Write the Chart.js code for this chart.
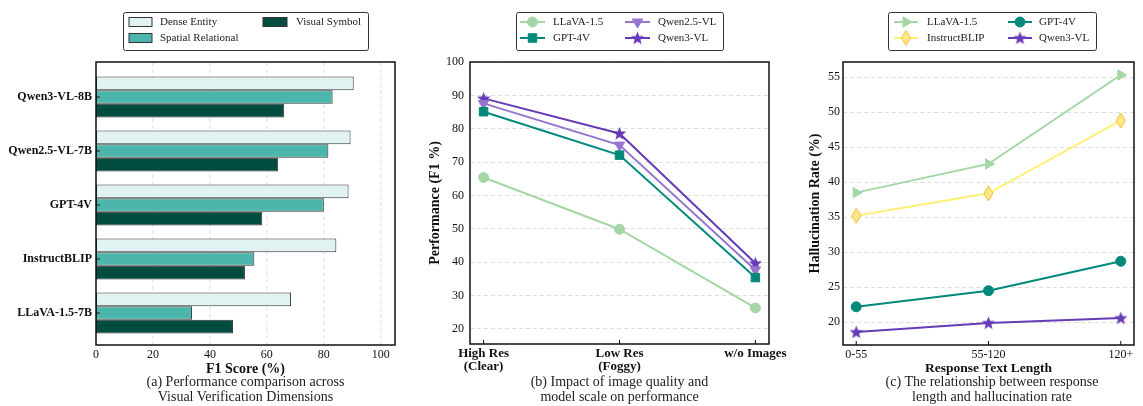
<!DOCTYPE html>
<html>
<head>
<meta charset="utf-8">
<script src="https://cdn.jsdelivr.net/npm/chart.js@4.4.1/dist/chart.umd.min.js"></script>
<style>
  body { margin: 0; background: #fff; width: 1143px; height: 406px; position: relative; overflow: hidden; font-family: "Liberation Serif", serif; }
  canvas { position: absolute; top: 0; }
  .cap { position: absolute; text-align: center; font-size: 14px; line-height: 15px; color: #222; }
</style>
</head>
<body>
<canvas id="c1" width="400" height="406" style="left:0"></canvas>
<canvas id="c2" width="400" height="406" style="left:400px"></canvas>
<canvas id="c3" width="363" height="406" style="left:780px"></canvas>
<div class="cap" style="left:66px;width:359px;top:374px">(a) Performance comparison across<br>Visual Verification Dimensions</div>
<div class="cap" style="left:440px;width:359px;top:374px">(b) Impact of image quality and<br>model scale on performance</div>
<div class="cap" style="left:812px;width:360px;top:374px">(c) The relationship between response<br>length and hallucination rate</div>
<script>
// (a) F1 by verification dimension
const modelsA = ["Qwen3-VL-8B", "Qwen2.5-VL-7B", "GPT-4V", "InstructBLIP", "LLaVA-1.5-7B"];
const denseEntity = [90.5, 89.4, 88.7, 84.4, 68.5];
const spatialRelational = [83.1, 81.6, 80.0, 55.6, 33.7];
const visualSymbol = [66.1, 64.0, 58.4, 52.3, 48.1];
const f1Ticks = [0, 20, 40, 60, 80, 100];

// (b) image quality
const qualityLabels = [["High Res", "(Clear)"], ["Low Res", "(Foggy)"], ["w/o Images"]];
const llavaQuality = [65.4, 49.9, 26.3];
const gpt4vQuality = [85.1, 72.1, 35.4];
const qwen25Quality = [87.6, 75.1, 37.7];
const qwen3Quality = [89.1, 78.6, 39.7];
const perfTicks = [20, 30, 40, 50, 60, 70, 80, 90, 100];

// (c) response length
const lengthLabels = ["0-55", "55-120", "120+"];
const llavaHalluc = [38.5, 42.6, 55.3];
const instructHalluc = [35.2, 38.4, 48.8];
const gpt4vHalluc = [22.2, 24.5, 28.7];
const qwen3Halluc = [18.6, 19.9, 20.6];
const hallucTicks = [20, 25, 30, 35, 40, 45, 50, 55];

Chart.defaults.font.family = "'Liberation Serif', serif";
Chart.defaults.color = "#111";
Chart.defaults.animation = false;
Chart.defaults.events = [];
Chart.defaults.plugins.legend.display = false;
Chart.defaults.plugins.tooltip.enabled = false;

const SERIF = "'Liberation Serif', serif";

// filled star / thin diamond markers
function makeStar(color, size) {
  const c = document.createElement("canvas");
  c.width = size; c.height = size;
  const g = c.getContext("2d");
  const R = size / 2 - 0.5, r = R * 0.42, cx = size / 2, cy = size / 2 + 0.5;
  g.beginPath();
  for (let i = 0; i < 10; i++) {
    const rad = i % 2 ? r : R;
    const a = -Math.PI / 2 + i * Math.PI / 5;
    g.lineTo(cx + rad * Math.cos(a), cy + rad * Math.sin(a));
  }
  g.closePath();
  g.fillStyle = color; g.fill();
  return c;
}
function makeDiamond(fill, stroke, w, h) {
  const c = document.createElement("canvas");
  c.width = w; c.height = h;
  const g = c.getContext("2d");
  g.beginPath();
  g.moveTo(w / 2, 1); g.lineTo(w - 1, h / 2); g.lineTo(w / 2, h - 1); g.lineTo(1, h / 2);
  g.closePath();
  g.fillStyle = fill; g.fill();
  g.strokeStyle = stroke; g.lineWidth = 1; g.stroke();
  return c;
}
const starPurple = makeStar("#673ab7", 15);
const diamondYellow = makeDiamond("#ffe88a", "#f5b82e", 11, 17);

// frame, inward ticks, vertical grid and the legend box
const framePlugin = {
  id: "frame",
  beforeDatasetsDraw(chart, args, opts) {
    if (!opts.vgrid) return;
    const { ctx, chartArea: a } = chart;
    const ext = opts.ext || { top: 0, bottom: 0 };
    const s = chart.scales.x;
    ctx.save();
    ctx.strokeStyle = "#d6d6d6";
    ctx.lineWidth = 0.8;
    ctx.setLineDash([4, 3]);
    opts.vgrid.forEach(v => {
      const p = s.getPixelForValue(v);
      ctx.beginPath(); ctx.moveTo(p, a.top - ext.top); ctx.lineTo(p, a.bottom + ext.bottom); ctx.stroke();
    });
    ctx.restore();
  },
  afterDraw(chart, args, opts) {
    const { ctx, chartArea: a } = chart;
    const ext = opts.ext || { top: 0, bottom: 0 };
    const top = a.top - ext.top, bottom = a.bottom + ext.bottom;
    ctx.save();
    ctx.strokeStyle = "#111";
    ctx.lineWidth = 1;
    if (opts.yTicks) {
      const s = chart.scales.y;
      s.ticks.forEach((t, i) => {
        const p = s.getPixelForTick(i);
        ctx.beginPath(); ctx.moveTo(a.left, p); ctx.lineTo(a.left + 4, p); ctx.stroke();
      });
    }
    if (opts.xTicks) {
      const s = chart.scales.x;
      s.ticks.forEach((t, i) => {
        const p = s.getPixelForTick(i);
        ctx.beginPath(); ctx.moveTo(p, bottom); ctx.lineTo(p, bottom - 4); ctx.stroke();
      });
    }
    ctx.lineWidth = 1.5;
    ctx.strokeRect(a.left, top, a.right - a.left, bottom - top);

    const L = opts.legend;
    if (L) {
      ctx.lineWidth = 1;
      ctx.strokeStyle = "#333";
      ctx.fillStyle = "#fff";
      ctx.beginPath();
      ctx.roundRect(L.x + 0.5, L.y + 0.5, L.w, L.h, 2);
      ctx.fill(); ctx.stroke();
      ctx.font = "11px " + SERIF;
      ctx.textBaseline = "middle";
      L.items.forEach(it => {
        const ds = chart.data.datasets[it.ds];
        const [x1, x2, tx] = L.cols[it.col];
        const y = L.rows[it.row];
        if (L.kind === "rect") {
          ctx.fillStyle = ds.backgroundColor;
          ctx.fillRect(x1, y - 4.5, x2 - x1, 9);
          ctx.strokeStyle = "#333";
          ctx.strokeRect(x1, y - 4.5, x2 - x1, 9);
        } else {
          ctx.strokeStyle = ds.borderColor;
          ctx.lineWidth = 2;
          ctx.beginPath(); ctx.moveTo(x1, y); ctx.lineTo(x2, y); ctx.stroke();
          ctx.fillStyle = ds.pointBackgroundColor;
          ctx.strokeStyle = ds.pointBorderColor;
          ctx.lineWidth = 1;
          Chart.helpers.drawPoint(ctx, {
            pointStyle: ds.pointStyle, radius: ds.pointRadius,
            rotation: ds.pointRotation || 0, borderWidth: ds.pointBorderWidth
          }, (x1 + x2) / 2, y);
        }
        ctx.fillStyle = "#222";
        ctx.fillText(ds.label, tx, y + 0.5);
      });
    }
    ctx.restore();
  }
};

const dashedGrid = { color: "#d6d6d6", lineWidth: 0.8, drawTicks: false };
const dashedBorder = { display: false, dash: [4, 3] };

function keepTicks(list) {
  return scale => { scale.ticks = list.map(v => ({ value: v })); };
}

// ---------- (a) ----------
new Chart(document.getElementById("c1"), {
  type: "bar",
  data: {
    labels: modelsA,
    datasets: [
      { label: "Dense Entity", data: denseEntity, backgroundColor: "#e0f2f1" },
      { label: "Spatial Relational", data: spatialRelational, backgroundColor: "#4db6ac" },
      { label: "Visual Symbol", data: visualSymbol, backgroundColor: "#004d40" }
    ].map(d => Object.assign(d, { borderColor: "#333", borderWidth: 1, borderSkipped: false,
      categoryPercentage: 0.76, barPercentage: 1.0 }))
  },
  options: {
    indexAxis: "y",
    responsive: false,
    layout: { padding: { top: 70, right: 5, bottom: 24, left: 0 } },
    scales: {
      x: {
        min: 0, max: 105,
        afterBuildTicks: keepTicks(f1Ticks),
        afterFit: s => { s.height = 42; },
        grid: { display: false, drawTicks: false },
        border: { display: false },
        ticks: { padding: 8, font: { size: 12 } },
        title: { display: true, text: "F1 Score (%)", font: { size: 14, weight: "bold" }, padding: { top: 0, bottom: 4 } }
      },
      y: {
        afterFit: s => { s.width = 96; },
        grid: { display: false, drawTicks: false },
        border: { display: false },
        ticks: { padding: 4, font: { size: 12, weight: "bold" } }
      }
    },
    plugins: {
      frame: {
        yTicks: true,
        ext: { top: 8, bottom: 5 },
        vgrid: [20, 40, 60, 80, 100],
        legend: {
          kind: "rect", x: 123, y: 12, w: 245, h: 38,
          rows: [22, 38],
          cols: [[129, 152, 160], [263, 287, 296]],
          items: [{ ds: 0, col: 0, row: 0 }, { ds: 1, col: 0, row: 1 }, { ds: 2, col: 1, row: 0 }]
        }
      }
    }
  },
  plugins: [framePlugin]
});

// ---------- (b) ----------
function lineSet(label, values, color, style, radius, extra) {
  return Object.assign({
    label: label,
    data: values.map((v, i) => ({ x: i, y: v })),
    borderColor: color, backgroundColor: color,
    pointBackgroundColor: color, pointBorderColor: color,
    borderWidth: 2, pointStyle: style, pointRadius: radius, pointBorderWidth: 1
  }, extra || {});
}

new Chart(document.getElementById("c2"), {
  type: "line",
  data: {
    datasets: [
      lineSet("LLaVA-1.5", llavaQuality, "#a5d6a7", "circle", 5),
      lineSet("GPT-4V", gpt4vQuality, "#00897b", "rect", 6),
      lineSet("Qwen2.5-VL", qwen25Quality, "#9575cd", "triangle", 6, { pointRotation: 180 }),
      lineSet("Qwen3-VL", qwen3Quality, "#673ab7", starPurple, 7)
    ]
  },
  options: {
    responsive: false,
    layout: { padding: { top: 62, right: 31, bottom: 22, left: 23 } },
    scales: {
      x: {
        type: "linear", min: -0.1, max: 2.1,
        afterBuildTicks: keepTicks([0, 1, 2]),
        afterFit: s => { s.height = 40; },
        grid: { display: false, drawTicks: false },
        border: { display: false },
        ticks: { padding: 3, maxRotation: 0, font: { size: 13, weight: "bold", lineHeight: 1.0 },
          callback: v => qualityLabels[v] }
      },
      y: {
        min: 15.5, max: 100,
        afterBuildTicks: keepTicks(perfTicks),
        afterFit: s => { s.width = 47; },
        grid: dashedGrid, border: dashedBorder,
        ticks: { padding: 6, font: { size: 12 } },
        title: { display: true, text: "Performance (F1 %)", font: { size: 14, weight: "bold" }, padding: { top: 4, bottom: 0 } }
      }
    },
    plugins: {
      frame: {
        xTicks: true,
        legend: {
          kind: "line", x: 116, y: 12, w: 207, h: 38,
          rows: [22, 38],
          cols: [[120, 145, 153], [225, 250, 258]],
          items: [{ ds: 0, col: 0, row: 0 }, { ds: 1, col: 0, row: 1 }, { ds: 2, col: 1, row: 0 }, { ds: 3, col: 1, row: 1 }]
        }
      }
    }
  },
  plugins: [framePlugin]
});

// ---------- (c) ----------
new Chart(document.getElementById("c3"), {
  type: "line",
  data: {
    datasets: [
      lineSet("LLaVA-1.5", llavaHalluc, "#a5d6a7", "triangle", 6, { pointRotation: 90 }),
      lineSet("InstructBLIP", instructHalluc, "#fff176", diamondYellow, 8,
        { pointBackgroundColor: "#ffe88a", pointBorderColor: "#f5b82e" }),
      lineSet("GPT-4V", gpt4vHalluc, "#00897b", "circle", 5),
      lineSet("Qwen3-VL", qwen3Halluc, "#673ab7", starPurple, 7)
    ]
  },
  options: {
    responsive: false,
    layout: { padding: { top: 62, right: 3, bottom: 25, left: 23 } },
    scales: {
      x: {
        type: "linear", min: -0.1, max: 2.1,
        afterBuildTicks: keepTicks([0, 1, 2]),
        afterFit: s => { s.height = 36; },
        grid: { display: false, drawTicks: false },
        border: { display: false },
        ticks: { padding: 3, maxRotation: 0, font: { size: 12 }, callback: v => lengthLabels[v] },
        title: { display: true, text: "Response Text Length", font: { size: 13.5, weight: "bold" }, padding: { top: 0, bottom: 4 } }
      },
      y: {
        min: 16.75, max: 57.15,
        afterBuildTicks: keepTicks(hallucTicks),
        afterFit: s => { s.width = 40; },
        grid: dashedGrid, border: dashedBorder,
        ticks: { padding: 3, font: { size: 12 } },
        title: { display: true, text: "Hallucination Rate (%)", font: { size: 14, weight: "bold" }, padding: { top: 4, bottom: 0 } }
      }
    },
    plugins: {
      frame: {
        xTicks: true,
        legend: {
          kind: "line", x: 108, y: 12, w: 208, h: 38,
          rows: [22, 38],
          cols: [[114, 138, 147], [228, 252, 259]],
          items: [{ ds: 0, col: 0, row: 0 }, { ds: 1, col: 0, row: 1 }, { ds: 2, col: 1, row: 0 }, { ds: 3, col: 1, row: 1 }]
        }
      }
    }
  },
  plugins: [framePlugin]
});
</script>
</body>
</html>
